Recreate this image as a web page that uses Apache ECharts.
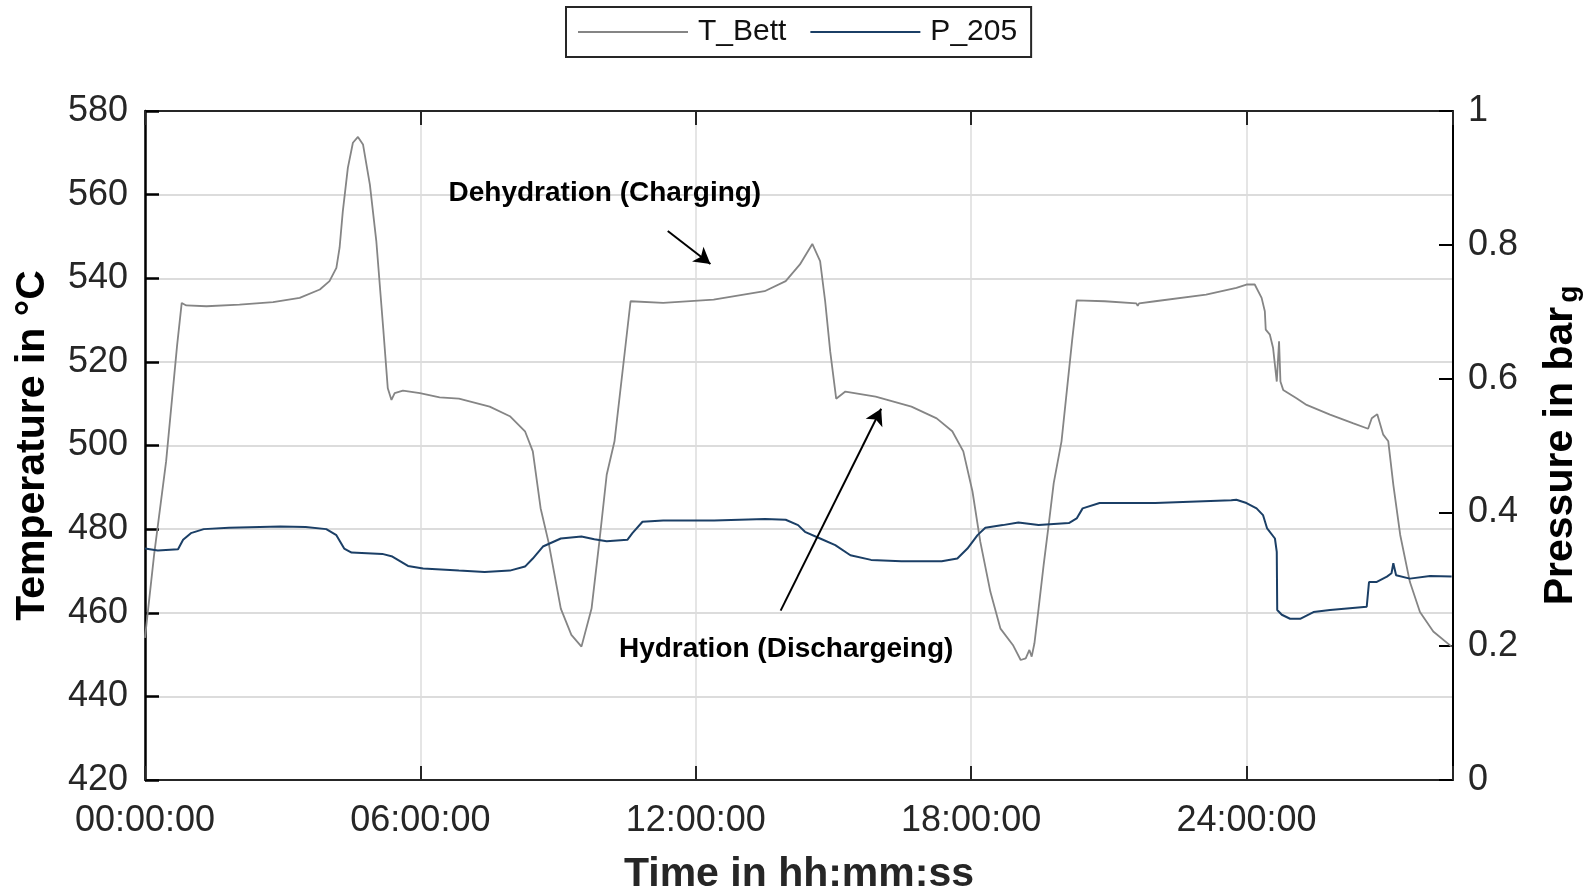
<!DOCTYPE html>
<html>
<head>
<meta charset="utf-8">
<script src="https://cdn.jsdelivr.net/npm/echarts@6/dist/echarts.min.js"></script>
<style>
html,body{margin:0;padding:0;background:#fff;}
#chart{width:1596px;height:887px;}
</style>
</head>
<body>
<div id="chart"></div>
<script>
// time in hours
const tBettTime = [0.00,0.20,0.46,0.70,0.80,0.90,1.34,2.06,2.79,3.37,3.81,4.02,4.17,4.24,4.31,4.42,4.53,4.64,4.75,4.90,5.04,5.19,5.29,5.37,5.44,5.62,5.99,6.42,6.84,7.51,7.95,8.28,8.45,8.62,8.79,9.06,9.29,9.51,9.73,9.90,10.06,10.23,10.45,10.58,11.29,12.39,13.50,13.96,14.27,14.54,14.71,14.82,14.93,15.06,15.26,15.92,16.70,17.25,17.59,17.83,18.03,18.20,18.42,18.64,18.91,19.08,19.19,19.27,19.32,19.38,19.47,19.58,19.69,19.80,19.97,20.20,20.30,20.91,21.60,21.63,21.66,22.01,23.12,23.78,24.00,24.18,24.33,24.40,24.42,24.51,24.58,24.66,24.71,24.74,24.80,25.09,25.31,25.82,26.33,26.65,26.73,26.85,26.98,27.09,27.20,27.35,27.56,27.78,28.07,28.47];
const tBettValues = [454,474,496.2,524,534.1,533.5,533.3,533.7,534.3,535.3,537.3,539.3,542.5,547.3,556.0,566.4,572.4,573.8,572.0,562.4,548.9,528.1,513.7,510.9,512.5,513.1,512.5,511.5,511.2,509.3,507.0,503.4,498.6,485,477,461,454.7,451.9,461,477,493,501,522,534.5,534.1,534.9,536.9,539.3,543.3,548.2,544.1,534.5,522.5,511.2,512.9,511.7,509.3,506.5,503.4,498.6,489,477,465,456.2,452.3,448.7,449.1,451.1,449.5,452.7,461,471.4,481,491,501,525,534.7,534.5,534.0,533.4,534.0,534.5,536.1,537.7,538.5,538.5,535.3,532.1,527.7,526.5,523.3,515.3,524.9,515.3,513.3,511.3,509.7,507.4,505.3,504.0,506.5,507.5,502.6,501.0,490.6,478.6,467.4,460.2,455.5,451.9];

const p205Time = [0.00,0.28,0.72,0.83,1.00,1.28,1.83,2.95,3.50,3.95,4.17,4.34,4.50,5.17,5.39,5.73,6.06,6.84,7.40,7.95,8.28,8.45,8.67,9.06,9.51,9.79,10.06,10.51,10.62,10.84,11.29,12.40,13.51,13.96,14.23,14.38,14.71,15.04,15.37,15.82,16.48,17.36,17.70,17.92,18.14,18.31,18.69,19.03,19.47,20.13,20.30,20.43,20.80,22.01,23.67,23.78,24.00,24.22,24.36,24.45,24.62,24.66,24.67,24.77,24.95,25.17,25.46,25.82,26.62,26.67,26.84,27.06,27.16,27.20,27.26,27.56,28.00,28.47];
const p205Values = [0.346,0.343,0.345,0.359,0.369,0.375,0.377,0.379,0.378,0.375,0.366,0.346,0.340,0.338,0.334,0.320,0.316,0.313,0.311,0.313,0.319,0.331,0.349,0.361,0.364,0.360,0.357,0.359,0.369,0.386,0.388,0.388,0.390,0.389,0.381,0.371,0.361,0.351,0.336,0.329,0.327,0.327,0.331,0.346,0.366,0.377,0.381,0.385,0.381,0.384,0.391,0.406,0.414,0.414,0.418,0.419,0.414,0.406,0.396,0.376,0.361,0.341,0.254,0.247,0.241,0.241,0.251,0.254,0.259,0.296,0.296,0.304,0.309,0.324,0.306,0.301,0.305,0.304];

const xTicksHours = [0,6,12,18,24];
const seriesNames = ['T_Bett','P_205'];
const seriesColors = ['#858585','#1b3f66'];

function pad2(n){return (n<10?'0':'')+n;}
function fmtTime(v){
  if (xTicksHours.indexOf(Math.round(v*1000)/1000) < 0) return '';
  return pad2(Math.round(v)) + ':00:00';
}

const tBettData = tBettTime.map((t,i)=>[t,tBettValues[i]]);
const p205Data = p205Time.map((t,i)=>[t,p205Values[i]]);

const FONT = 'Liberation Sans, Arial, sans-serif';
const chart = echarts.init(document.getElementById('chart'));
chart.setOption({
  animation:false,
  backgroundColor:'#ffffff',
  textStyle:{fontFamily:FONT},
  grid:{left:145,right:143,top:111,bottom:107,containLabel:false,outerBoundsMode:'none'},
  legend:{
    left:566, top:7,
    padding:[10,14,10,12],
    borderColor:'#262626', borderWidth:2,
    itemWidth:110, itemHeight:2, itemGap:24,
    data:seriesNames.map((n,i)=>({name:n,icon:'rect',itemStyle:{color:seriesColors[i]}})),
    textStyle:{fontSize:30,color:'#111',fontFamily:FONT,padding:[0,0,0,5]}
  },
  xAxis:[{
    type:'value', position:'bottom', min:0, max:28.5, interval:6,
    name:'Time in hh:mm:ss', nameLocation:'middle', nameGap:74,
    nameTextStyle:{fontSize:41,fontWeight:'bold',color:'#262626',fontFamily:FONT},
    axisLine:{show:true,onZero:false,lineStyle:{color:'#262626',width:2}},
    axisTick:{show:true,inside:true,length:14,lineStyle:{color:'#262626',width:2}},
    axisLabel:{fontSize:36,color:'#262626',margin:23,formatter:fmtTime,fontFamily:FONT},
    splitLine:{show:true,lineStyle:{color:'#dcdcdc',width:1.5}}
  },{
    type:'value', position:'top', min:0, max:28.5, interval:6,
    axisLine:{show:true,onZero:false,lineStyle:{color:'#262626',width:2}},
    axisTick:{show:true,inside:true,length:14,lineStyle:{color:'#262626',width:2}},
    axisLabel:{show:false},
    splitLine:{show:false}
  }],
  yAxis:[{
    type:'value', position:'left', min:420, max:580, interval:20,
    name:'Temperature in °C', nameLocation:'middle', nameGap:92, nameRotate:90,
    nameTextStyle:{fontSize:41,fontWeight:'bold',color:'#000',fontFamily:FONT},
    axisLine:{show:true,onZero:false,lineStyle:{color:'#000',width:2.5}},
    axisTick:{show:true,inside:true,length:14,lineStyle:{color:'#000',width:2.5}},
    axisLabel:{fontSize:36,color:'#262626',margin:17,fontFamily:FONT},
    splitLine:{show:true,lineStyle:{color:'#dcdcdc',width:2}}
  },{
    type:'value', position:'right', min:0, max:1, interval:0.2,
    name:'Pressure in bar{g|g}', nameLocation:'middle', nameGap:86, nameRotate:90,
    nameTextStyle:{fontSize:41,fontWeight:'bold',color:'#000',fontFamily:FONT,
      rich:{g:{fontSize:28,fontWeight:'bold',color:'#000',fontFamily:FONT,padding:[16,0,0,4]}}},
    axisLine:{show:true,onZero:false,lineStyle:{color:'#000',width:2}},
    axisTick:{show:true,inside:true,length:14,lineStyle:{color:'#000',width:2}},
    axisLabel:{fontSize:36,color:'#262626',margin:15,fontFamily:FONT,
      formatter:function(v){return String(Math.round(v*10)/10);}},
    splitLine:{show:false}
  }],
  series:[{
    name:seriesNames[0], type:'line', xAxisIndex:0, yAxisIndex:0,
    data:tBettData, showSymbol:false, symbol:'none',
    lineStyle:{color:seriesColors[0],width:1.8}, itemStyle:{color:seriesColors[0]},
    z:3,
    markLine:{
      silent:true, symbol:['none','arrow'], symbolSize:[14,16],
      label:{show:false},
      lineStyle:{color:'#000',width:2,type:'solid'},
      data:[
        [{coord:[11.39,551.3]},{coord:[12.32,543.4]}],
        [{coord:[13.85,460.5]},{coord:[16.04,508.8]}]
      ]
    },
    markPoint:{
      silent:true, symbol:'circle', symbolSize:0,
      label:{show:true,position:'inside',fontSize:28,fontWeight:'bold',color:'#000',fontFamily:FONT},
      data:[
        {coord:[10.02,560.4],label:{formatter:'Dehydration (Charging)'}},
        {coord:[13.97,451.2],label:{formatter:'Hydration (Dischargeing)'}}
      ]
    }
  },{
    name:seriesNames[1], type:'line', xAxisIndex:0, yAxisIndex:1,
    data:p205Data, showSymbol:false, symbol:'none',
    lineStyle:{color:seriesColors[1],width:2}, itemStyle:{color:seriesColors[1]},
    z:4
  }]
});
</script>
</body>
</html>
